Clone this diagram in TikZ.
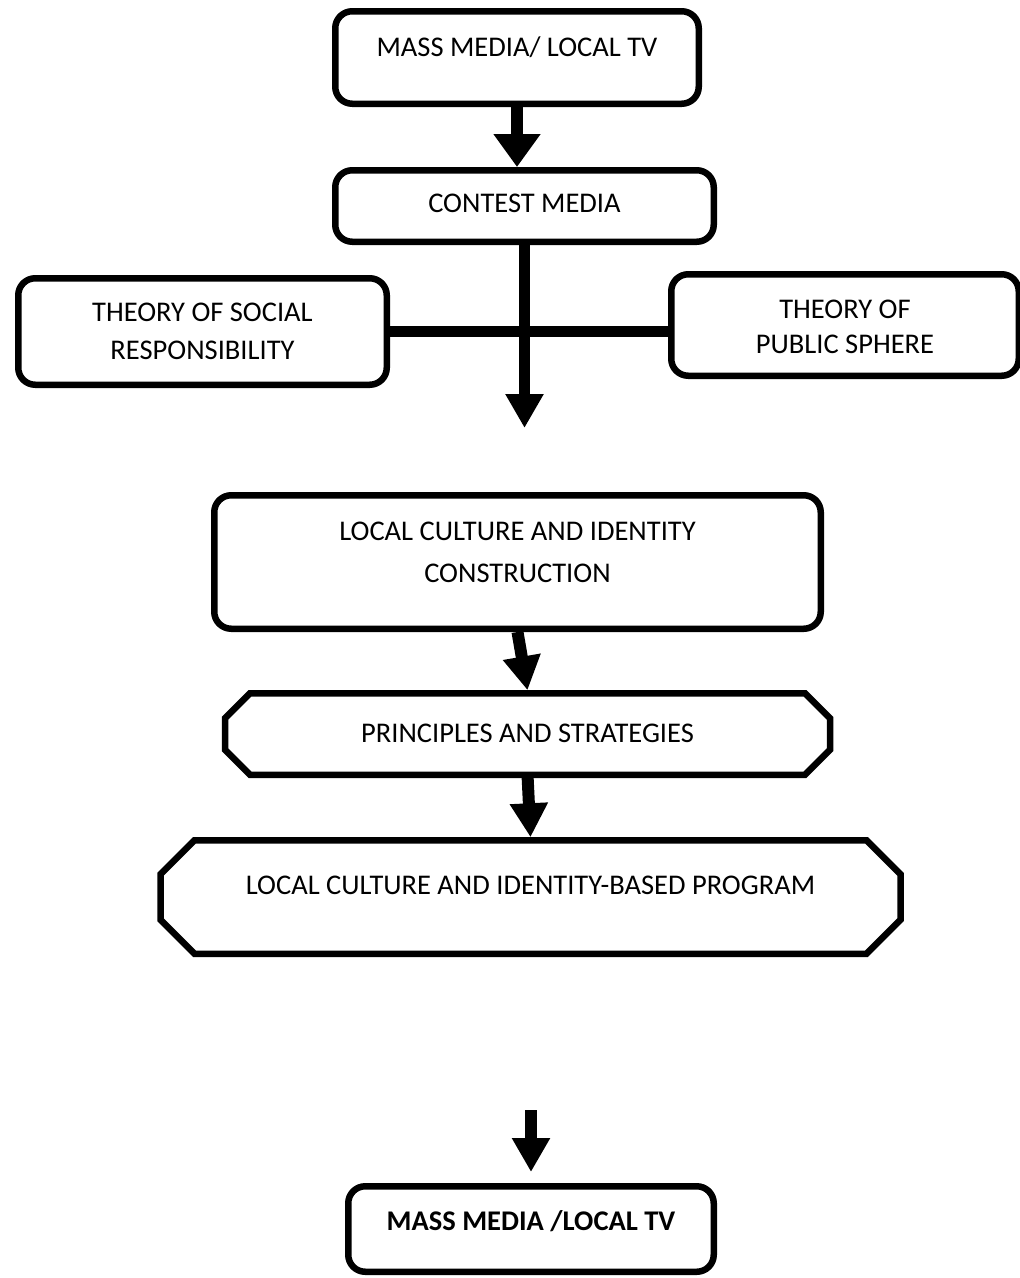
\documentclass[tikz,border=0pt]{standalone}
\usepackage{fontspec}
\setmainfont{Carlito}
\usepackage{tikz}
\usetikzlibrary{arrows.meta}
\tikzstyle{block} = [rectangle, draw, line width=6.5pt, rounded corners=17pt, align=center, text height=18.4pt, fill=white]
\tikzstyle{twoline} = [block, text height=56.4pt, text depth=0pt]
\tikzstyle{octo} = [rectangle, outer sep=0pt, align=center, text height=18.4pt]
\tikzstyle{arrow} = [line width=12pt, -{Triangle[width=36pt,length=34pt]}]
\tikzstyle{bar} = [line width=11pt]
% octagon frame round a node: #1 node, #2 chamfer
\newcommand{\octoframe}[2]{%
  \draw[line width=6.5pt] ([xshift=#2]#1.north west) -- ([xshift=-#2]#1.north east)
    -- ([yshift=-#2]#1.north east) -- ([yshift=#2]#1.south east)
    -- ([xshift=-#2]#1.south east) -- ([xshift=#2]#1.south west)
    -- ([yshift=#2]#1.south west) -- ([yshift=-#2]#1.north west) -- cycle;}

\begin{document}
\begin{tikzpicture}[x=1pt, y=-1pt, font=\fontsize{28.5}{38}\selectfont]
    \useasboundingbox (0,0) rectangle (1020,1278);

    \node[block, minimum width=363.5pt, minimum height=92.5pt, text depth=21pt] (media) at (517,57.5) {MASS MEDIA/ LOCAL TV};
    \node[block, minimum width=378.5pt, minimum height=71.5pt, text depth=6pt] (contest) at (524.5,206) {CONTEST MEDIA};
    \node[twoline, minimum width=368.5pt, minimum height=106.5pt] (social) at (202.5,331.5) {THEORY OF SOCIAL\\RESPONSIBILITY};
    \node[twoline, minimum width=347.5pt, minimum height=101.5pt] (sphere) at (845,325) {THEORY OF\\[-3pt]PUBLIC SPHERE};
    \node[twoline, minimum width=606.5pt, minimum height=133.5pt, text height=60.4pt, text depth=20pt] (culture) at (517.5,562) {LOCAL CULTURE AND IDENTITY\\[4pt]CONSTRUCTION};
    \node[octo, minimum width=605pt, minimum height=81.5pt, text depth=2pt] (principles) at (527.5,734) {PRINCIPLES AND STRATEGIES};
    \node[octo, minimum width=740pt, minimum height=113.5pt, text depth=24pt] (program) at (530.5,897) {LOCAL CULTURE AND IDENTITY-BASED PROGRAM};
    \node[block, minimum width=365.5pt, minimum height=85.5pt, text depth=15pt] (tv) at (531,1229) {\textbf{MASS MEDIA /LOCAL TV}};

    \octoframe{principles}{25pt}
    \octoframe{program}{34pt}

    \coordinate (split) at (contest.south |- 0,428);
    \coordinate (restart) at (531,1110);

    \draw[arrow, -{Triangle[width=45pt,length=33pt]}] (media.south) -- (media.south |- contest.north);
    \draw[bar] (social.east) -- (social.east -| sphere.west);
    \draw[arrow, line width=11pt] (contest.south) -- (split);
    \draw[arrow] (culture.south) -- ([yshift=3pt]principles.north);
    \draw[arrow] (principles.south) -- ([yshift=3pt]program.north);
    \draw[arrow, shorten >=11pt] (restart) -- (restart |- tv.north);
\end{tikzpicture}
\end{document}
